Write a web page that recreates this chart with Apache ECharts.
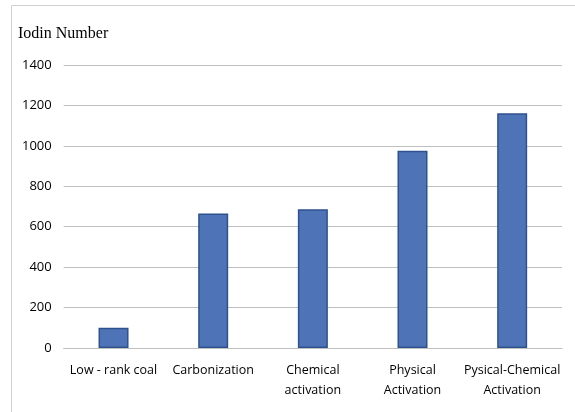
<!DOCTYPE html>
<html><head><meta charset="utf-8">
<script src="https://cdn.jsdelivr.net/npm/echarts@6/dist/echarts.min.js"></script>
<style>html,body{margin:0;padding:0;background:#fff}#c{width:575px;height:412px}</style>
</head><body><div id="c"></div>
<script>
const categories = ['Low - rank coal', 'Carbonization', 'Chemical\nactivation', 'Physical\nActivation', 'Pysical-Chemical\nActivation'];
const iodineValues = [100, 665, 686, 976, 1161];
const yTicks = [0, 200, 400, 600, 800, 1000, 1200, 1400];
const titleText = 'Iodin Number';

const chart = echarts.init(document.getElementById('c'), null, {renderer: 'canvas'});
const labelFont = '"Open Sans", sans-serif';
chart.setOption({
  animation: false,
  graphic: [{
    type: 'rect', shape: {x: 11.5, y: 5.5, width: 600, height: 420},
    style: {fill: 'none', stroke: '#d0d0d0', lineWidth: 1}, silent: true
  }],
  title: {
    text: titleText, left: 13, top: 21,
    textStyle: {fontFamily: '"Liberation Serif", serif', fontWeight: 'normal', fontSize: 16, color: '#000'}
  },
  grid: {left: 63.7, right: 13, top: 65, bottom: 64, containLabel: false},
  xAxis: {
    type: 'category', data: categories,
    axisLine: {show: true, lineStyle: {color: '#bfbfbf', width: 1}},
    axisTick: {show: false},
    axisLabel: {interval: 0, color: '#000', fontSize: 12.5, fontFamily: labelFont, lineHeight: 20, margin: 12}
  },
  yAxis: {
    type: 'value', min: yTicks[0], max: yTicks[yTicks.length - 1], interval: 200,
    axisLine: {show: false}, axisTick: {show: false},
    splitLine: {lineStyle: {color: '#bfbfbf', width: 1}},
    axisLabel: {color: '#000', fontSize: 13, fontFamily: labelFont, margin: 12, formatter: v => String(v)}
  },
  series: [{
    type: 'bar', data: iodineValues, barWidth: 30,
    itemStyle: {color: '#4e74b7', borderColor: '#2f528f', borderWidth: 1.5}
  }]
});
</script></body></html>
